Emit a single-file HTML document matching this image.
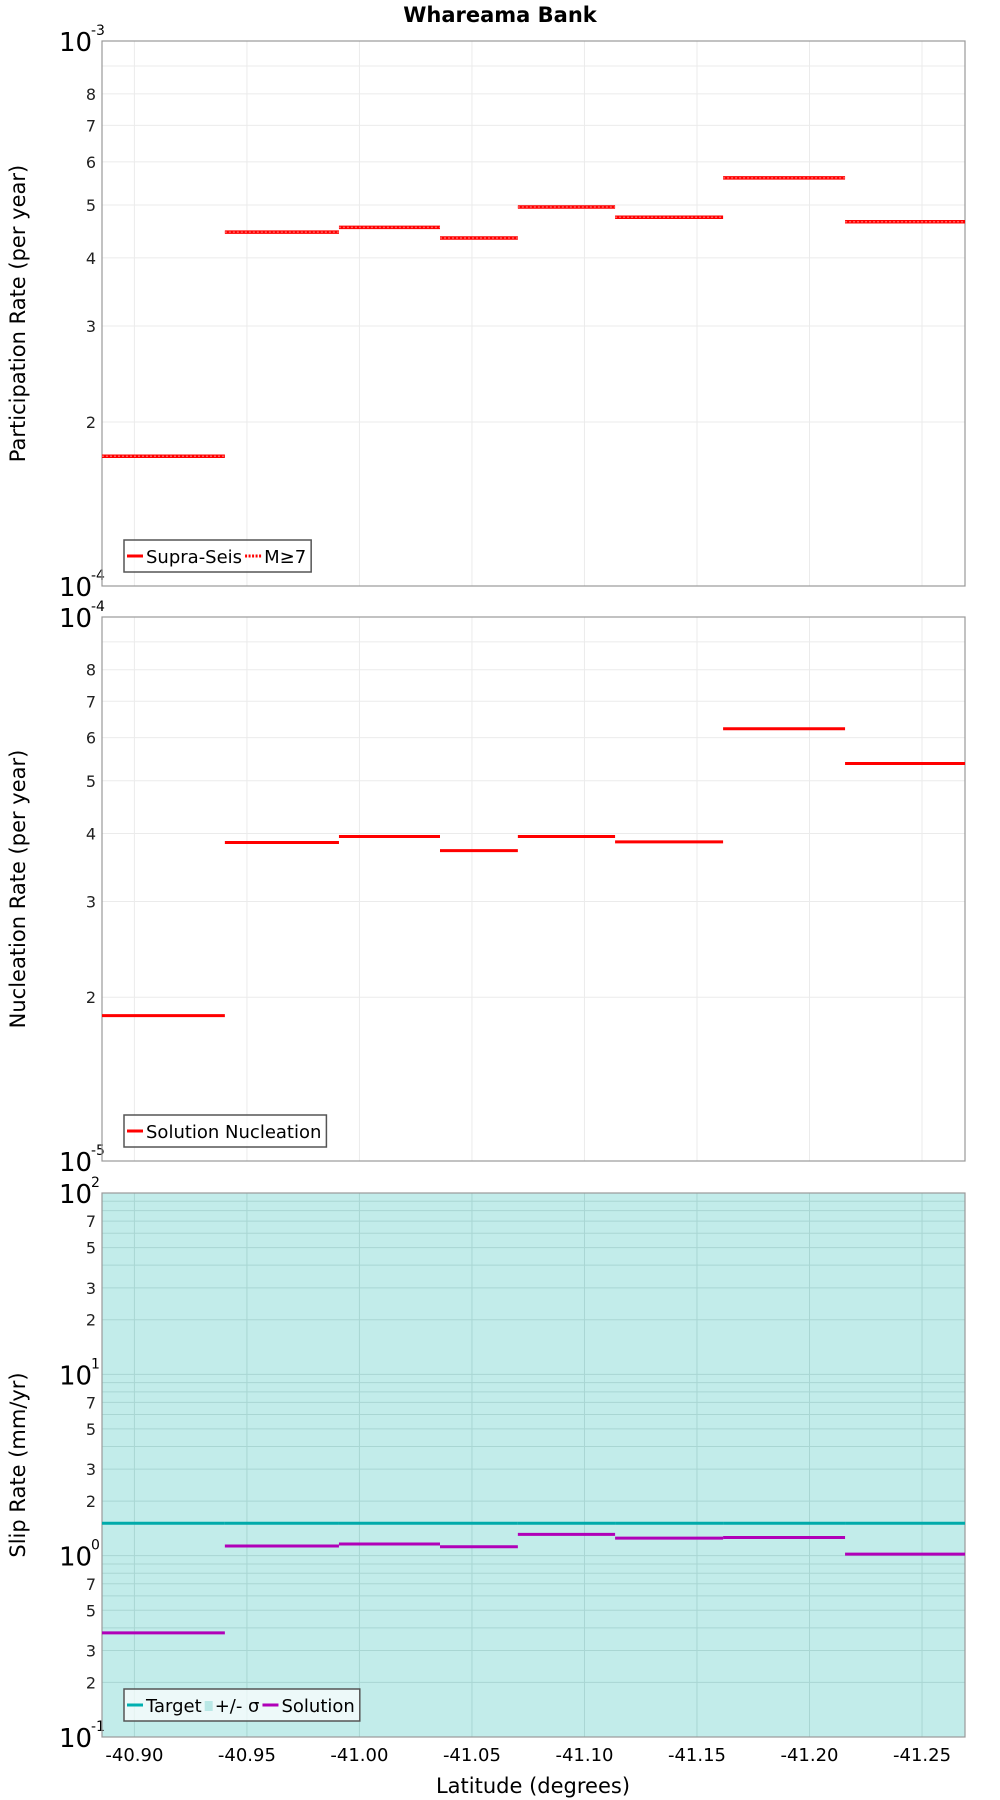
<!DOCTYPE html>
<html><head><meta charset="utf-8"><style>
body{margin:0;background:#fff}
svg{display:block;font-family:"DejaVu Sans","Liberation Sans",sans-serif}
</style></head><body>
<svg id="c" width="1000" height="1800" viewBox="0 0 1000 1800" xmlns="http://www.w3.org/2000/svg">
<text x="500" y="22" text-anchor="middle" font-weight="bold" font-size="21">Whareama Bank</text>
<g id="g"></g>
</svg>
<script>
const binEdges=[-40.8856,-40.9402,-40.9909,-41.0358,-41.0704,-41.1136,-41.1616,-41.2158,-41.2691];
const xTicks=[-40.90,-40.95,-41.00,-41.05,-41.10,-41.15,-41.20,-41.25];
const xTickLabels=["-40.90","-40.95","-41.00","-41.05","-41.10","-41.15","-41.20","-41.25"];
const participation=[1.73e-4,4.46e-4,4.55e-4,4.35e-4,4.96e-4,4.75e-4,5.61e-4,4.66e-4];
const participationM7=[1.73e-4,4.46e-4,4.55e-4,4.35e-4,4.96e-4,4.75e-4,5.61e-4,4.66e-4];
const nucleation=[1.85e-5,3.85e-5,3.95e-5,3.72e-5,3.95e-5,3.86e-5,6.23e-5,5.38e-5];
const slipTarget=[1.51,1.51,1.51,1.51,1.51,1.51,1.51,1.51];
const slipSolution=[0.375,1.13,1.16,1.12,1.31,1.25,1.26,1.02];
const sigmaLow=0.1, sigmaHigh=100;

const NS="http://www.w3.org/2000/svg";
const G=document.getElementById('g');
function el(t,a,p){const e=document.createElementNS(NS,t);for(const k in a)e.setAttribute(k,a[k]);(p||G).appendChild(e);return e;}
const L=102,R=965;
const xLat0=-40.8856,xLat1=-41.2691;
function X(v){return L+(v-xLat0)/(xLat1-xLat0)*(R-L);}
function mkY(top,bot,lo,hi){return v=>bot-(Math.log10(v)-Math.log10(lo))/(Math.log10(hi)-Math.log10(lo))*(bot-top);}

function panel(name,top,bot,lo,hi,minorLabels,fill,title){
  const Y=mkY(top,bot,lo,hi);
  const g=el('g',{});
  
  
  if(fill){const r=el('rect',{x:L,y:top,width:R-L,height:bot-top,fill:fill},g);
    }
  const gc=fill?'#a9d6d3':'#ebebeb';
  for(const t of xTicks){el('line',{x1:X(t),x2:X(t),y1:top,y2:bot,stroke:gc,'stroke-width':1},g);}
  const d0=Math.round(Math.log10(lo)),d1=Math.round(Math.log10(hi));
  for(let d=d0;d<d1;d++){for(let m=1;m<10;m++){const v=m*Math.pow(10,d);const y=Y(v);
    if(m>1)el('line',{x1:L,x2:R,y1:y,y2:y,stroke:gc,'stroke-width':1},g);
    if(m>1&&minorLabels.includes(m)){const t=el('text',{x:96,y:y+6,'text-anchor':'end','font-size':16,fill:'#222'},g);t.textContent=m;
      }}}
  for(let d=d0;d<=d1;d++){const y=Y(Math.pow(10,d));
    if(d>d0&&d<d1)el('line',{x1:L,x2:R,y1:y,y2:y,stroke:gc,'stroke-width':1},g);
    const t=el('text',{x:59,y:y+10,'font-size':26,fill:'#000'},g);t.textContent='10';
    
    const s=el('text',{x:91,y:y-6,'font-size':14,fill:'#000'},g);s.textContent=String(d);}
  el('rect',{x:L,y:top,width:R-L,height:bot-top,fill:'none',stroke:'#999','stroke-width':1.2},g);
  const yt=el('text',{x:0,y:0,'font-size':21,'text-anchor':'middle',fill:'#000',transform:`translate(25,${(top+bot)/2}) rotate(-90)`},g);
  yt.textContent=title;
  return Y;
}
function steps(vals,Y,color,w,name,dash){
  for(let i=0;i<vals.length;i++){const y=Y(vals[i]);
    const l=el('line',{x1:X(binEdges[i]),x2:X(binEdges[i+1]),y1:y,y2:y,stroke:color,'stroke-width':w});
    if(dash)l.setAttribute('stroke-dasharray',dash);
    
    }
}
function legend(x,y,items,name){
  const g=el('g',{});
  const r=el('rect',{x:x,y:y,width:10,height:32,fill:'rgba(255,255,255,0.7)',stroke:'#555','stroke-width':1.5},g);
  let cx=x+3;
  for(const it of items){
    if(it.box)el('rect',{x:cx,y:y+12,width:8,height:10,fill:it.c},g);
    else el('line',{x1:cx,x2:cx+16,y1:y+16,y2:y+16,stroke:it.c,'stroke-width':3,'stroke-dasharray':it.d||''},g);
    const t=el('text',{x:cx+(it.box?10:19),y:y+23,'font-size':18,fill:'#000'},g);t.textContent=it.t;
    cx+=(it.box?10:19)+t.getComputedTextLength()+3;}
  r.setAttribute('width',cx-x+2);
}
const Y1=panel('participation',41,586,1e-4,1e-3,[2,3,4,5,6,7,8],null,'Participation Rate (per year)');
steps(participation,Y1,'#ff0000',3.5,'supra-seis');
steps(participationM7,Y1,'#ff6060',1.5,'m7','2,2');
legend(124,540,[{c:'#f00',t:'Supra-Seis'},{c:'#f00',t:'M≥7',d:'2,1.5'}],'participation-legend');

const Y2=panel('nucleation',617,1161,1e-5,1e-4,[2,3,4,5,6,7,8],null,'Nucleation Rate (per year)');
steps(nucleation,Y2,'#ff0000',3,'nucleation');
legend(124,1115,[{c:'#f00',t:'Solution Nucleation'}],'nucleation-legend');

const Y3=panel('slip',1193,1737,sigmaLow,sigmaHigh,[2,3,5,7],'#c2ecea','Slip Rate (mm/yr)');
steps(slipTarget,Y3,'#00aaaa',3,'target');
steps(slipSolution,Y3,'#b000b8',3,'solution');
legend(124,1689,[{c:'#00b0b0',t:'Target'},{c:'#b9e8e6',t:'+/- σ',box:true},{c:'#b000b8',t:'Solution'}],'slip-legend');

xTicks.forEach((t,i)=>{const e=el('text',{x:X(t),y:1761,'text-anchor':'middle','font-size':18,fill:'#000'});e.textContent=xTickLabels[i];
  });
const xl=el('text',{x:533,y:1793,'text-anchor':'middle','font-size':21,fill:'#000'});xl.textContent='Latitude (degrees)';

</script>
</body></html>
